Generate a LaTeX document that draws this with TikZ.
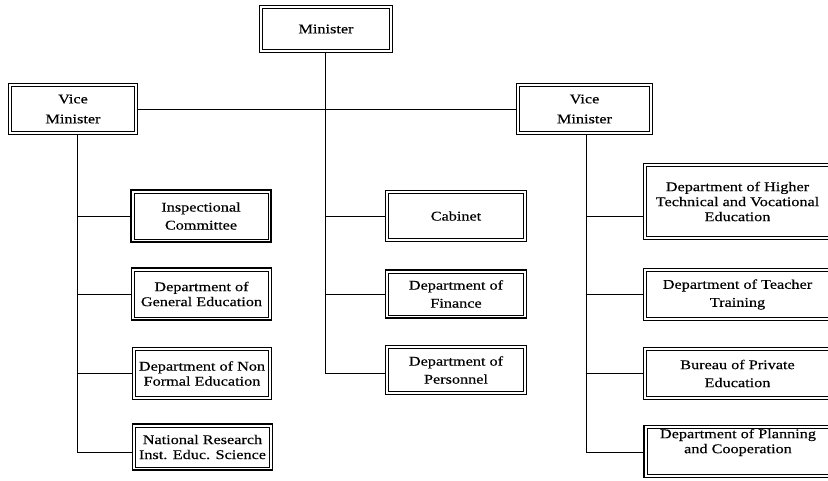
\documentclass[tikz,border=0pt]{standalone}
\usepackage{fontspec}
\setmainfont{Liberation Serif}[FakeStretch=1.22,FakeBold=0.4]
\begin{document}
\begin{tikzpicture}[x=1pt,y=-1pt,
  box/.style={draw, line width=1.3pt, align=center,
    inner sep=0pt, font=\fontsize{13.3}{15}\selectfont},
  inner/.style={line width=0.7pt},
  link/.style={line width=0.9pt}]
\useasboundingbox (0,0) rectangle (828,480);
\clip (0,0) rectangle (828,480);
% top
\node[box, minimum width=133pt, minimum height=47pt] (min) at (326,29) {Minister};
\node[box, minimum width=129pt, minimum height=51pt] (vl) at (73,109) {Vice\\[5pt]Minister};
\node[box, minimum width=136pt, minimum height=51pt] (vr) at (584.5,109) {Vice\\[5pt]Minister};
% left column
\node[box, minimum width=140pt, minimum height=52pt] (insp) at (201,216) {Inspectional\\[3pt]Committee};
\node[box, minimum width=140pt, minimum height=52pt] (gen) at (201.5,294) {Department of\\General Education};
\node[box, minimum width=139pt, minimum height=52pt] (nonf) at (202,373.5) {Department of Non\\Formal Education};
\node[box, minimum width=140pt, minimum height=46pt] (nat) at (202.5,447) {National Research\\Inst. Educ. Science};
% centre column
\node[box, minimum width=141pt, minimum height=51pt] (cab) at (456,216) {Cabinet};
\node[box, minimum width=141pt, minimum height=48pt] (fin) at (456,294) {Department of\\[3pt]Finance};
\node[box, minimum width=141pt, minimum height=49pt] (pers) at (456,370) {Department of\\[3pt]Personnel};
% right column
\node[box, minimum width=196pt, minimum height=76pt] (high) at (741.5,201.5) {\hspace*{-8pt}Department of Higher\\\hspace*{-8pt}Technical and Vocational\\\hspace*{-8pt}Education};
\node[box, minimum width=196pt, minimum height=52pt] (teach) at (741.5,294.5) {\hspace*{-8pt}Department of Teacher\\[3pt]\hspace*{-8pt}Training};
\node[box, minimum width=196pt, minimum height=52pt] (bur) at (741.5,373.5) {\hspace*{-8pt}Bureau of Private\\[3pt]\hspace*{-8pt}Education};
\node[box, minimum width=196pt, minimum height=52pt] (plan) at (742,451.5) {\hspace*{-8pt}Department of Planning\\\hspace*{-8pt}and Cooperation\\[6pt]};
% inner frames
\foreach \n in {min,vl,vr,insp,gen,nonf,nat,cab,fin,pers,high,teach,bur,plan}
  \draw[inner] ([xshift=3.5pt,yshift=-3.5pt]\n.north west) rectangle ([xshift=-3.5pt,yshift=3.5pt]\n.south east);
% spine coordinates
\coordinate (lx) at (77,0);
\coordinate (rx) at (586,0);
\coordinate (lend) at (77,452);
\coordinate (rend) at (586,452);
\coordinate (cend) at (325,373);
% connectors
\draw[link] (vl.east) -- (vl.east -| vr.west);
\draw[link] (min.south -| cend) -- (cend);
\draw[link] (vl.south -| lend) -- (lend);
\draw[link] (vr.south -| rend) -- (rend);
\draw[link] (insp.west -| lx) -- (insp.west);
\draw[link] (gen.west -| lx) -- (gen.west);
\draw[link] (nonf.west -| lx) -- (nonf.west);
\draw[link] (lend) -- (lend -| nat.west);
\draw[link] (cab.west -| cend) -- (cab.west);
\draw[link] (fin.west -| cend) -- (fin.west);
\draw[link] (cend) -- (cend -| pers.west);
\draw[link] (high.west |- 0,216) -- (rx |- 0,216);
\draw[link] (teach.west -| rx) -- (teach.west);
\draw[link] (bur.west -| rx) -- (bur.west);
\draw[link] (rend) -- (rend -| plan.west);
\end{tikzpicture}
\end{document}
